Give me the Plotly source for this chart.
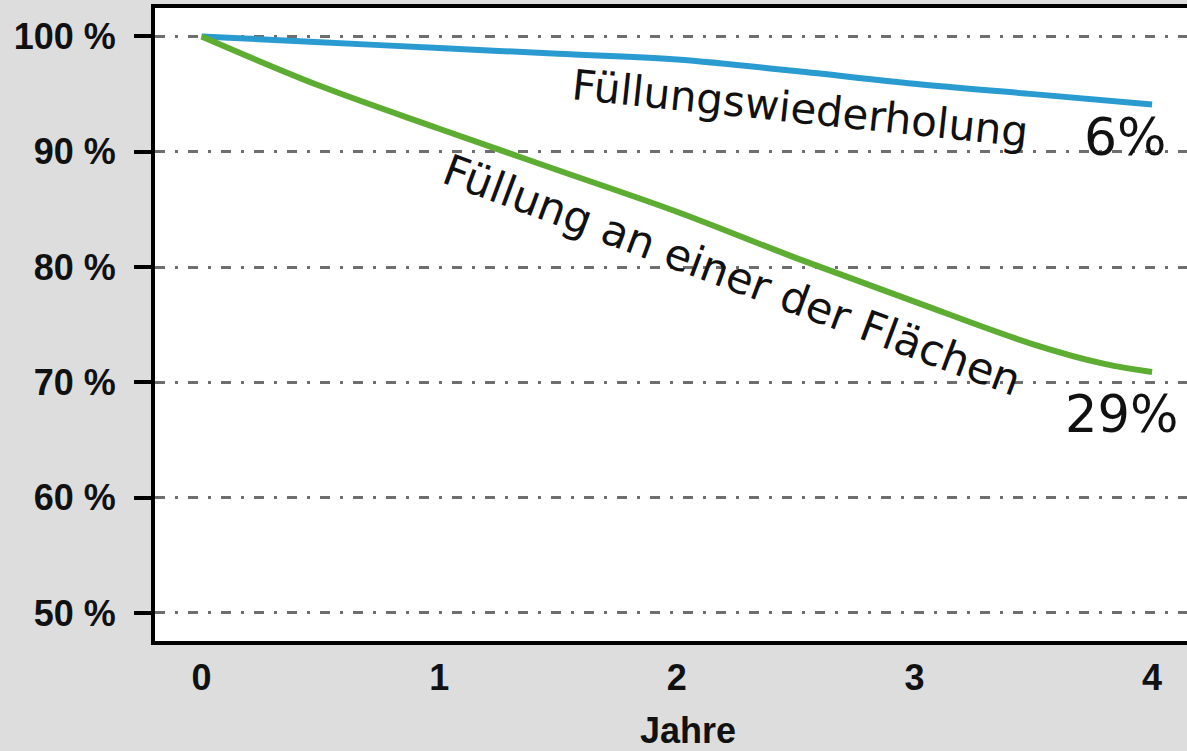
import plotly.graph_objects as go

# Data (years vs. percentage of surviving restorations)
years_blue = [0, 0.5, 1, 1.5, 2, 2.5, 3, 3.5, 4]
vals_blue = [100, 99.5, 99.0, 98.5, 98.0, 97.0, 95.9, 95.0, 94.1]

years_green = [0, 0.5, 1, 1.5, 2, 2.5, 3, 3.5, 3.8, 4]
vals_green = [100, 95.7, 92.0, 88.4, 84.8, 80.8, 77.0, 73.3, 71.6, 70.9]

y_ticks = [50, 60, 70, 80, 90, 100]
y_tick_text = ["50 %", "60 %", "70 %", "80 %", "90 %", "100 %"]
x_ticks = [0, 1, 2, 3, 4]

label_blue = "Füllungswiederholung"
label_green = "Füllung an einer der Flächen"
pct_blue = "6%"
pct_green = "29%"
x_title = "Jahre"

fig = go.Figure()
fig.add_trace(go.Scatter(x=years_blue, y=vals_blue, mode="lines",
                         line=dict(color="#2a9bd0", width=6, shape="spline"),
                         showlegend=False, hoverinfo="skip"))
fig.add_trace(go.Scatter(x=years_green, y=vals_green, mode="lines",
                         line=dict(color="#5cad32", width=6, shape="spline"),
                         showlegend=False, hoverinfo="skip"))

txt_font = dict(family="DejaVu Sans", color="#111111")
fig.add_annotation(x=2.52, y=93.75, text=label_blue, showarrow=False,
                   textangle=6, font=dict(size=42, **txt_font),
                   xanchor="center", yanchor="middle")
fig.add_annotation(x=2.233, y=79.34, text=label_green, showarrow=False,
                   textangle=20.5, font=dict(size=43, **txt_font),
                   xanchor="center", yanchor="middle")
fig.add_annotation(x=3.89, y=91.3, text=pct_blue, showarrow=False,
                   font=dict(size=52, **txt_font), xanchor="center", yanchor="middle")
fig.add_annotation(x=3.87, y=67.2, text=pct_green, showarrow=False,
                   font=dict(size=51, **txt_font), xanchor="center", yanchor="middle")
fig.add_annotation(x=2.048, y=-0.141, xref="x", yref="paper", text=x_title,
                   showarrow=False,
                   font=dict(family="Liberation Sans", size=36, color="#111111", weight="bold"),
                   xanchor="center", yanchor="middle")

grid_color = "#6e6e6e"
fig.update_layout(
    width=1187, height=751,
    paper_bgcolor="#dddddd", plot_bgcolor="#ffffff",
    margin=dict(l=155, r=0, t=8, b=110),
    xaxis=dict(range=[-0.196, 4.147], tickvals=x_ticks,
               showgrid=False, zeroline=False,
               showline=True, linecolor="#000000", linewidth=4, mirror=True,
               ticks="", ticklabelstandoff=2,
               tickfont=dict(family="Liberation Sans", size=36, color="#111111", weight="bold")),
    yaxis=dict(range=[47.57, 102.47], tickmode="array", tickvals=y_ticks, ticktext=y_tick_text,
               showgrid=True, gridcolor=grid_color, gridwidth=2.5,
               griddash="10px,10px,3px,10px",
               zeroline=False,
               showline=True, linecolor="#000000", linewidth=4, mirror=False,
               ticks="outside", ticklen=17, tickwidth=4, tickcolor="#000000",
               ticklabelstandoff=11,
               tickfont=dict(family="Liberation Sans", size=36, color="#111111", weight="bold")),
)

fig.write_html("out.html", config={"displayModeBar": False},
               post_script="document.body.style.margin='0';")
